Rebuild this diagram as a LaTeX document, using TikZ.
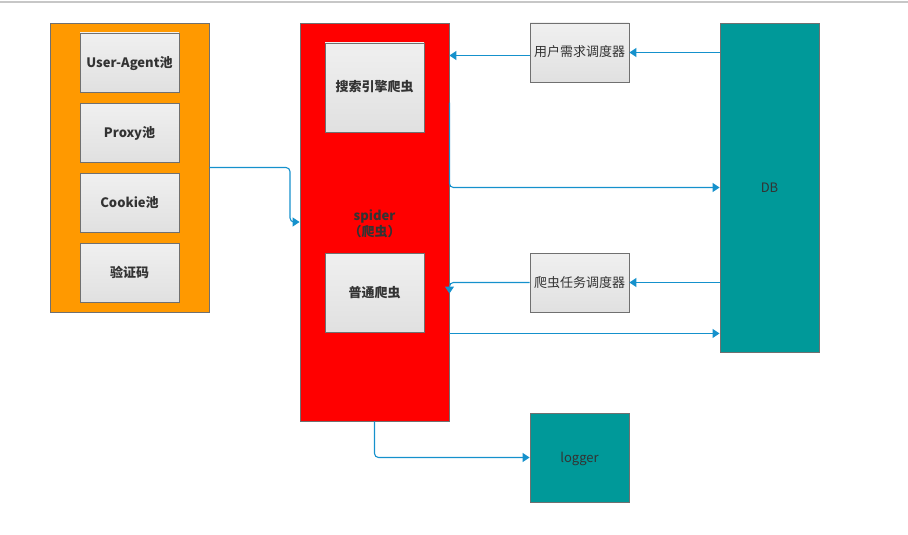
\documentclass[tikz,border=0pt]{standalone}
\usepackage{fontspec}
\setmainfont{Noto Sans CJK SC}
\usetikzlibrary{arrows.meta}
\definecolor{poolorange}{HTML}{FF9900}
\definecolor{spiderred}{HTML}{FF0000}
\definecolor{teal}{HTML}{009999}
\definecolor{edgegray}{HTML}{707070}
\definecolor{flow}{HTML}{1591CC}
\definecolor{txt}{HTML}{333333}
\tikzset{
  box/.style={draw=edgegray, line width=0.9pt, inner sep=0pt, text=txt,
    font=\fontsize{13}{15}\selectfont, align=center,
    text height=10pt, text depth=1pt},
  panel/.style={box, top color=white!94!black, bottom color=white!88!black,
    minimum width=99pt, minimum height=59pt},
  boldpanel/.style={panel, font=\fontsize{13}{15}\selectfont\bfseries},
  flowline/.style={draw=flow, line width=1.1pt, rounded corners=4pt,
    -{Triangle[length=7pt,width=9pt]}},
}
\begin{document}
\begin{tikzpicture}[x=1pt,y=-1pt]
\useasboundingbox (0,0) rectangle (908,535);
\draw[white!78!black, line width=1.2pt] (0,2) -- (908,2);

% proxy / cookie pools
\node[box, fill=poolorange, minimum width=159pt, minimum height=289pt] (pool) at (129.5,167.5) {};
\node[boldpanel] (ua) at (129.5,62.5) {User-Agent池};
\node[boldpanel] (proxy) at (129.5,132.5) {Proxy池};
\node[boldpanel] (cookie) at (129.5,202.5) {Cookie池};
\node[boldpanel] (captcha) at (129.5,272.5) {验证码};

% spider
\node[box, fill=spiderred, minimum width=149pt, minimum height=398pt] (spider) at (374.5,222) {};
\node[text=txt, font=\fontsize{13}{16}\selectfont\bfseries, align=center, inner sep=0pt] (spiderlabel) at (374.5,224) {spider\\（爬虫）};
\node[boldpanel, minimum height=89pt] (search) at (374.5,87.5) {搜索引擎爬虫};
\node[boldpanel, minimum height=79pt] (common) at (374.5,292.5) {普通爬虫};

% schedulers
\node[panel] (user) at (579.5,52.5) {用户需求调度器};
\node[panel] (task) at (579.5,282.5) {爬虫任务调度器};

% storage and logging
\node[box, fill=teal, minimum width=99pt, minimum height=329pt] (db) at (769.5,187.5) {DB};
\node[box, fill=teal, minimum width=99pt, minimum height=89pt] (logger) at (579.5,457.5) {logger};

% connectors
\coordinate (poolbend) at (290,0);
\draw[flowline] (pool.east) -- (poolbend |- pool.east) -- (poolbend |- spider.west) -- (spider.west);

\draw[flowline] (db.west |- user.east) -- (user.east);
\draw[flowline] ([yshift=-3pt]user.west) -- ([yshift=-3pt]user.west -| spider.east);

\coordinate (searchout) at ([yshift=-80pt]spider.north east);
\draw[flowline] (searchout) -- (searchout |- db.west) -- (db.west);

\draw[flowline] (db.west |- task.east) -- (task.east);
\draw[flowline] (task.west) -- (task.west -| spider.east) -- ([yshift=-11pt]task.west -| spider.east);

\coordinate (commonout) at ([yshift=88pt]spider.south east);
\draw[flowline] (commonout) -- (commonout -| db.west);

\draw[flowline] (spider.south) -- (spider.south |- logger.west) -- (logger.west);
\end{tikzpicture}
\end{document}
